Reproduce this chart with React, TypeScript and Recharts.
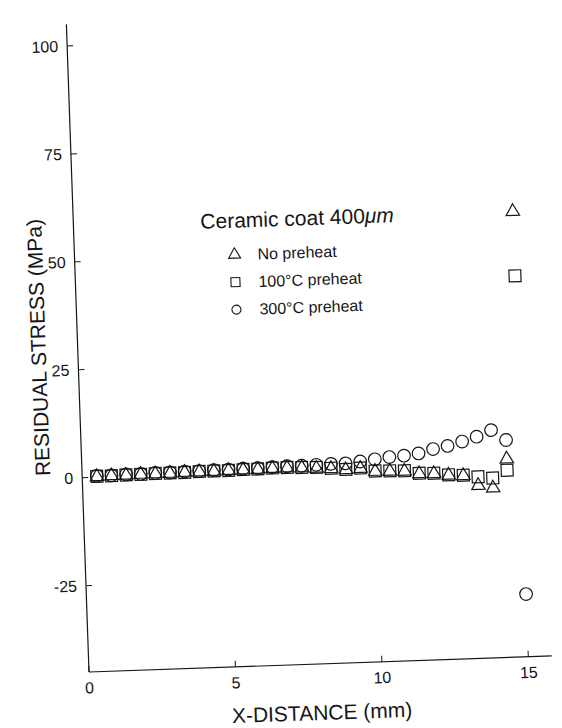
import React from 'react';
import { ScatterChart, Scatter, XAxis, YAxis, Legend, Symbols } from 'recharts';

// X-distance from the coating edge (mm)
const xDistance = [
  0.5, 1, 1.5, 2, 2.5, 3, 3.5, 4, 4.5, 5, 5.5, 6, 6.5, 7, 7.5,
  8, 8.5, 9, 9.5, 10, 10.5, 11, 11.5, 12, 12.5, 13, 13.5, 14, 14.5, 15,
];

// Residual stress (MPa), one value per x-distance
const noPreheat = [
  0.1, 0.2, 0.2, 0.3, 0.3, 0.3, 0.4, 0.4, 0.4, 0.5, 0.5, 0.5, 0.6, 0.6, 0.5,
  0.3, 0.1, -0.3, -0.1, -0.9, -1.0, -1.1, -1.8, -1.9, -2.4, -2.6, -5.0, -5.7, 0.9, 58.1,
];
const preheat100 = [
  0.2, 0.2, 0.3, 0.3, 0.4, 0.4, 0.4, 0.5, 0.5, 0.5, 0.6, 0.6, 0.7, 0.7, 0.6,
  0.5, 0.2, -0.2, 0.0, -0.8, -0.9, -1.0, -1.7, -1.8, -2.3, -2.5, -3.0, -3.4, -1.7, 43.2,
];
const preheat300 = [
  0.3, 0.3, 0.4, 0.4, 0.5, 0.5, 0.6, 0.6, 0.7, 0.7, 0.8, 0.8, 0.9, 1.0, 1.0,
  1.1, 1.2, 1.2, 1.5, 1.9, 2.3, 2.5, 2.9, 3.8, 4.4, 5.3, 6.3, 7.7, 5.3, -30.5,
];

const seriesNames = ['No preheat', '100°C preheat', '300°C preheat'];
const legendTitle = 'Ceramic coat 400';
const legendUnit = 'μm';
const xTitle = 'X-DISTANCE (mm)';
const yTitle = 'RESIDUAL STRESS (MPa)';

const xTicks = [0, 5, 10, 15];
const yTicks = [-25, 0, 25, 50, 75, 100];
const xDomain = [0, 15.8];
const yDomain = [-45, 105];

const toPoints = (ys: number[]) => xDistance.map((x, i) => ({ x, y: ys[i] }));

const INK = '#161616';
const FONT = '"Liberation Sans", Arial, Helvetica, sans-serif';

const marker = (type: any, size: number) => (props: any) => {
  const { cx, cy } = props;
  if (cx == null || cy == null) return <g />;
  return (
    <Symbols
      cx={cx}
      cy={cy}
      type={type}
      size={size}
      fill="none"
      stroke={INK}
      strokeWidth={1.2}
    />
  );
};

const legendSizes: Record<string, number> = { triangle: 62, square: 81, circle: 64 };

const LegendBox = (props: any) => {
  const payload = [...(props.payload ?? [])].sort(
    (a: any, b: any) => seriesNames.indexOf(a.value) - seriesNames.indexOf(b.value)
  );
  return (
    <svg width={270} height={130} style={{ display: 'block', overflow: 'visible' }}>
      <text x={6} y={30} fontSize={21} fontFamily={FONT} fill={INK}>
        {legendTitle}
        <tspan fontStyle="italic">{legendUnit}</tspan>
      </text>
      {payload.map((entry: any, i: number) => {
        const cy = 57 + i * 27.5;
        return (
          <g key={entry.value}>
            <Symbols
              cx={39}
              cy={cy}
              type={entry.type}
              size={legendSizes[entry.type] ?? 64}
              fill="none"
              stroke={INK}
              strokeWidth={1.1}
            />
            <text x={62} y={cy + 5.7} fontSize={16} fontFamily={FONT} fill={INK}>
              {entry.value}
            </text>
          </g>
        );
      })}
    </svg>
  );
};

const XTitle = (props: any) => {
  const vb = props.viewBox ?? { x: 89, y: 672, width: 463, height: 73 };
  const cx = vb.x + vb.width / 2;
  const baseline = vb.y + 56;
  return (
    <text x={cx} y={baseline} textAnchor="middle" fontSize={21} fontFamily={FONT} fill={INK}>
      {xTitle}
    </text>
  );
};

const YTitle = (props: any) => {
  const vb = props.viewBox ?? { x: 0, y: 24, width: 89, height: 648 };
  const bx = vb.x + vb.width - 32;
  const cy = vb.y + vb.height / 2 - 2;
  return (
    <text
      x={bx}
      y={cy}
      transform={`rotate(-90 ${bx} ${cy})`}
      textAnchor="middle"
      fontSize={21}
      fontFamily={FONT}
      fill={INK}
    >
      {yTitle}
    </text>
  );
};

const tickStyle = { fontSize: 16, fill: INK, fontFamily: FONT };
const axisLineStyle = { stroke: INK, strokeWidth: 1.2 };

export default function App() {
  return (
    <div
      style={{
        position: 'absolute',
        left: 0,
        top: 0,
        width: 562,
        height: 728,
        overflow: 'hidden',
        background: '#fff',
      }}
    >
      <div
        style={{
          width: 562,
          height: 745,
          transform: 'rotate(-2deg)',
          transformOrigin: '89px 672px',
        }}
      >
        <ScatterChart
          width={562}
          height={745}
          margin={{ top: 24, right: 10, bottom: 0, left: 0 }}
          style={{ fontFamily: FONT }}
        >
          <XAxis
            type="number"
            dataKey="x"
            domain={xDomain}
            ticks={xTicks}
            interval={0}
            height={73}
            tickSize={-6}
            tickMargin={16}
            axisLine={axisLineStyle}
            tickLine={{ stroke: INK, strokeWidth: 1 }}
            tick={tickStyle}
            label={<XTitle />}
          />
          <YAxis
            type="number"
            dataKey="y"
            domain={yDomain}
            ticks={yTicks}
            interval={0}
            width={89}
            tickSize={-6}
            tickMargin={15}
            axisLine={axisLineStyle}
            tickLine={{ stroke: INK, strokeWidth: 1 }}
            tick={tickStyle}
            label={<YTitle />}
          />
          <XAxis
            xAxisId="top"
            orientation="top"
            type="number"
            domain={xDomain}
            height={0}
            tick={false}
            tickLine={false}
            axisLine={axisLineStyle}
          />
          <YAxis
            yAxisId="right"
            orientation="right"
            type="number"
            domain={yDomain}
            width={0}
            tick={false}
            tickLine={false}
            axisLine={axisLineStyle}
          />
          <Legend
            layout="vertical"
            align="center"
            verticalAlign="middle"
            wrapperStyle={{ left: 210, top: 203, width: 270, height: 130 }}
            content={(p: any) => <LegendBox {...p} />}
          />
          <Scatter
            name={seriesNames[0]}
            data={toPoints(noPreheat)}
            legendType="triangle"
            shape={marker('triangle', 78)}
            isAnimationActive={false}
          />
          <Scatter
            name={seriesNames[1]}
            data={toPoints(preheat100)}
            legendType="square"
            shape={marker('square', 140)}
            isAnimationActive={false}
          />
          <Scatter
            name={seriesNames[2]}
            data={toPoints(preheat300)}
            legendType="circle"
            shape={marker('circle', 125)}
            isAnimationActive={false}
          />
        </ScatterChart>
      </div>
    </div>
  );
}
